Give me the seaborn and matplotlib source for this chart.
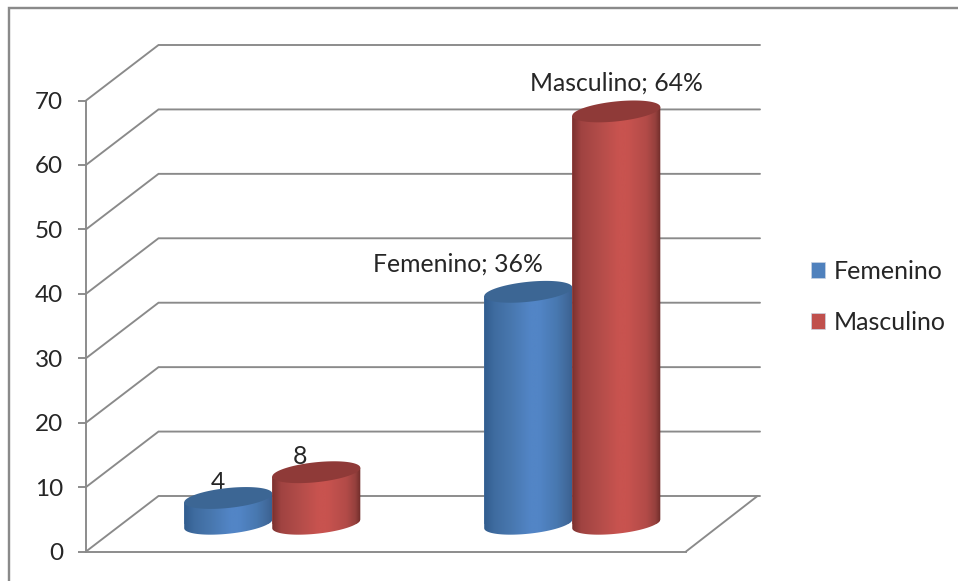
import numpy as np
import pandas as pd
import matplotlib
matplotlib.use("Agg")
import matplotlib.pyplot as plt
from matplotlib.colors import LinearSegmentedColormap
from matplotlib.patches import Patch, Rectangle
from matplotlib.path import Path
import seaborn as sns

# Data
grupos = ["Conteo", "Porcentaje"]
femenino = [4, 36]
masculino = [8, 64]
etiquetas_femenino = ["4", "Femenino; 36%"]
etiquetas_masculino = ["8", "Masculino; 64%"]
serie_nombres = ["Femenino", "Masculino"]
marcas_y = list(range(0, 80, 10))

# Layout, in pixels of the 958x581 canvas
W, H = 958, 581
FRONT_L, FRONT_R, FRONT_B, FRONT_T = 86, 686, 551.5, 100.5
DEPTH_X, DEPTH_Y = 72.5, 55.5
ELLIPSE_B, ELLIPSE_SKEW = 10.0, 0.10
OFFSETS = {"Femenino": [(-10, 15), (-70, 28)], "Masculino": [(-16, 16), (0, 28)]}

COLORES = {"Femenino": "#4f81bd", "Masculino": "#c0504d"}
TAPAS = {"Femenino": "#3c6694", "Masculino": "#8f3a38"}
RAMPAS = {
    "Femenino": [(0.0, "#315c8e"), (0.12, "#3f6ca0"), (0.3, "#4877ae"), (0.52, "#5285c6"), (0.62, "#5285c6"),
                 (0.82, "#4878b0"), (0.94, "#41699b"), (1.0, "#385f90")],
    "Masculino": [(0.0, "#7a302e"), (0.1, "#a04341"), (0.3, "#b24c49"), (0.52, "#c8534f"), (0.62, "#c8534f"),
                  (0.84, "#b24b48"), (0.94, "#95403d"), (1.0, "#6e2b29")],
}
GRIS = "#8a8a8a"
TEXTO = "#262626"

sns.set_theme(style="white")
plt.rcParams["font.family"] = ["Lato", "DejaVu Sans"]
px = 72 / 100

fig = plt.figure(figsize=(W / 100, H / 100), dpi=100, facecolor="white")

# Outer chart frame, running past the right and bottom of the canvas
fig.add_artist(Rectangle((9 / W, -0.05), 1.2, (H - 8) / H + 0.05, transform=fig.transFigure,
                         fill=False, edgecolor=GRIS, linewidth=2.4 * px))

# Front plane: value axis, walls and floor of the 3D box
ax = fig.add_axes([FRONT_L / W, (H - FRONT_B) / H, (FRONT_R - FRONT_L) / W, (FRONT_B - FRONT_T) / H])
ax.patch.set_alpha(0)
ax.set_xlim(FRONT_L, FRONT_R)
ax.set_ylim(0, 70)
per_unit = (FRONT_B - FRONT_T) / 70
depth_v = DEPTH_Y / per_unit
for v in marcas_y:
    ax.plot([FRONT_L, FRONT_L + DEPTH_X, 760], [v, v + depth_v, v + depth_v],
            color=GRIS, lw=1.9 * px, clip_on=False, solid_joinstyle="miter")
ax.plot([FRONT_R, FRONT_R + DEPTH_X - 1], [0, depth_v], color=GRIS, lw=1.9 * px, clip_on=False)
sns.despine(ax=ax, top=True, right=True)
for side in ("left", "bottom"):
    ax.spines[side].set_color(GRIS)
    ax.spines[side].set_linewidth(1.9 * px)
ax.set_xticks([])
ax.set_yticks(marcas_y)
ax.tick_params(axis="y", length=8 * px, width=1.9 * px, color=GRIS, pad=15 * px,
               labelsize=17.5, labelcolor=TEXTO, left=True)

# Mid-depth plane holding the bars
ax_bar = fig.add_axes([(FRONT_L + DEPTH_X / 2) / W, (H - FRONT_B + DEPTH_Y / 2) / H,
                       (FRONT_R - FRONT_L) / W, (FRONT_B - FRONT_T) / H], zorder=2)
tabla = pd.DataFrame({
    "grupo": grupos * 2,
    "serie": [serie_nombres[0]] * len(grupos) + [serie_nombres[1]] * len(grupos),
    "valor": femenino + masculino,
})
sns.barplot(data=tabla, x="grupo", y="valor", hue="serie", order=grupos, hue_order=serie_nombres,
            palette=COLORES, saturation=1, width=0.587, gap=0, legend=False, ax=ax_bar)
ax_bar.set_xlim(-0.5, 1.5)
ax_bar.set_ylim(0, 70)
ax_bar.set_axis_off()

sx = (FRONT_R - FRONT_L) / 2
sy = per_unit
theta = np.linspace(0, 2 * np.pi, 121)
sombra = np.linspace(0, 1, 256)[np.newaxis, :]


def elipse(xc, yc, a, t):
    """Skewed ellipse around (xc, yc) in data units, with a the half width."""
    a_px = a * sx
    return (xc + a * np.cos(t),
            yc + (ELLIPSE_B * np.sin(t) + ELLIPSE_SKEW * a_px * np.cos(t)) / sy)


def cilindro(patch, nombre, z):
    """Turn one seaborn bar into a shaded cylinder."""
    x0, a2, v = patch.get_x(), patch.get_width(), patch.get_height()
    a, xc = a2 / 2, x0 + a2 / 2
    t_low = np.linspace(0, -np.pi, 61)
    bx, by = elipse(xc, 0, a, t_low)
    tx, ty = elipse(xc, v, a, np.array([np.pi, 0.0]))
    verts = np.column_stack([np.r_[tx, bx], np.r_[ty, by]])
    cuerpo = Path(np.vstack([verts, verts[0]]), closed=True)
    patch.set_linewidth(0)
    patch.set_zorder(z)
    patch.set_clip_box(fig.bbox)
    patch.set_clip_path(cuerpo, transform=ax_bar.transData)
    cmap = LinearSegmentedColormap.from_list(nombre, RAMPAS[nombre])
    im = ax_bar.imshow(sombra, cmap=cmap, extent=(x0, x0 + a2, -3, v + 3), aspect="auto",
                       interpolation="bilinear", origin="lower", zorder=z + 0.1)
    im.set_clip_box(fig.bbox)
    im.set_clip_path(cuerpo, transform=ax_bar.transData)
    ex, ey = elipse(xc, v, a, theta)
    ax_bar.fill(ex, ey, color=TAPAS[nombre], lw=0, zorder=z + 0.2, clip_on=False)


etiquetas = {"Femenino": etiquetas_femenino, "Masculino": etiquetas_masculino}
for s, (nombre, cont) in enumerate(zip(serie_nombres, ax_bar.containers)):
    for patch, texto, off in zip(cont.patches, etiquetas[nombre], OFFSETS[nombre]):
        ax_bar.annotate(texto, (patch.get_x() + patch.get_width() / 2, patch.get_height()),
                        xytext=off, textcoords="offset pixels", ha="center", va="center",
                        fontsize=17.8, color=TEXTO, zorder=1, annotation_clip=False)
    for patch in cont.patches:
        cilindro(patch, nombre, 3 + s)
ax_bar.set_xlim(-0.5, 1.5)
ax_bar.set_ylim(0, 70)

# Legend to the right of the box
manijas = [Patch(facecolor=COLORES[n], edgecolor="#c9d4e4", linewidth=0.5, label=n) for n in serie_nombres]
fig.legend(handles=manijas, loc="center left", bbox_to_anchor=(788 / W, (H - 297) / H), frameon=False,
           fontsize=18, labelcolor=TEXTO, handlelength=0.58, handleheight=0.58, handletextpad=0.33,
           labelspacing=1.12)

fig.savefig("out.png", dpi=100, facecolor="white")
